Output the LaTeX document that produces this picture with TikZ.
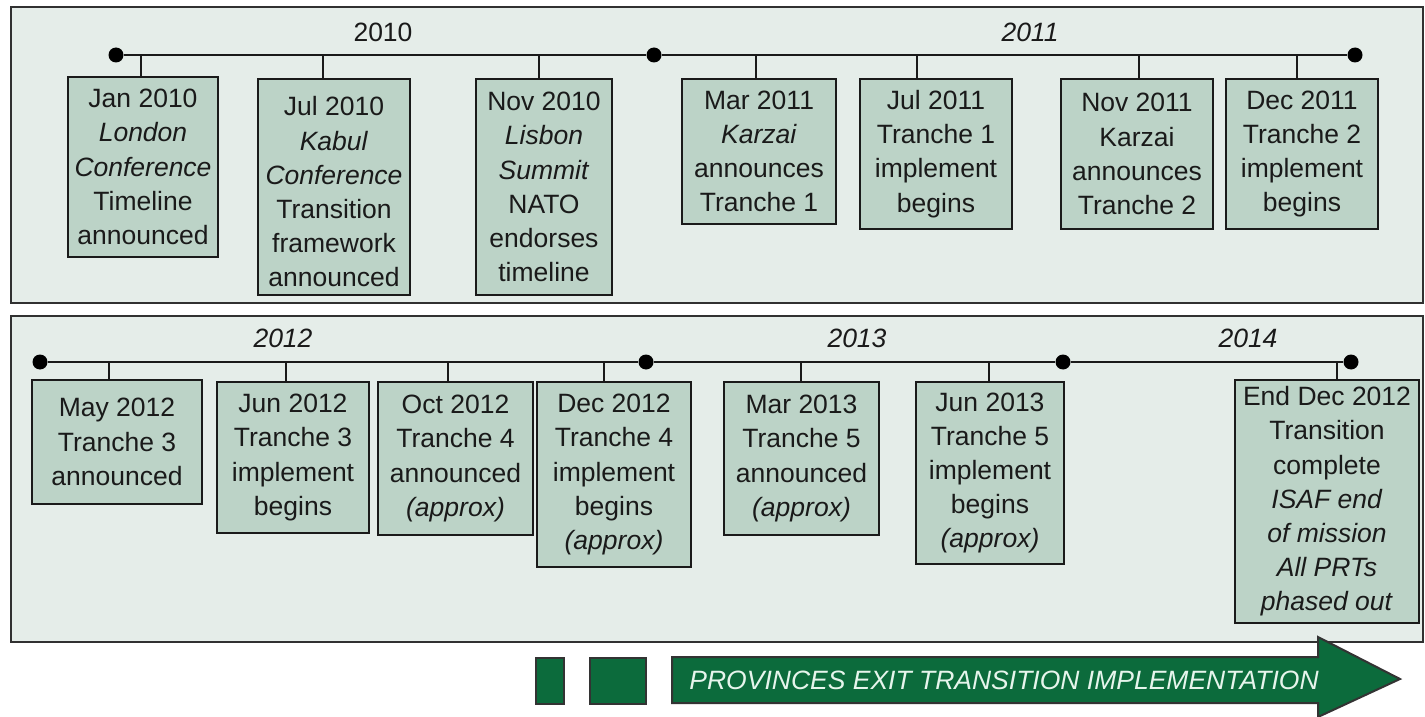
\documentclass[tikz,border=0pt]{standalone}
\usepackage{fontspec}
\setmainfont{Liberation Sans}
\usetikzlibrary{fit}
\definecolor{panelbg}{HTML}{E5EDE9}
\definecolor{boxfill}{HTML}{BCD3C7}
\definecolor{darkgreen}{HTML}{0C6B3C}
\definecolor{inkgray}{HTML}{1A1A1A}
\definecolor{paletext}{HTML}{E6F5EC}
\tikzset{
  panel/.style={draw=inkgray!90, line width=1.1pt, fill=panelbg},
  evbox/.style={draw=inkgray, line width=1pt, fill=boxfill, inner sep=0pt},
  evtext/.style={inner sep=0pt, align=center, text=inkgray,
    font=\fontsize{13.25}{17.1}\selectfont},
  tdot/.style={circle, fill=black, inner sep=0pt, minimum size=7.5pt},
  tline/.style={line width=1pt, draw=inkgray},
  yearlbl/.style={text=inkgray, font=\fontsize{13.25}{16}\selectfont, inner sep=0pt},
  gsq/.style={draw=black!80, line width=1pt, fill=darkgreen},
}
\begin{document}
\begin{tikzpicture}[x=0.5pt,y=-0.5pt]
\useasboundingbox (0,0) rectangle (1425,717);
% panels
\path[panel] (11,7) rectangle (1423,303);
\path[panel] (11,316) rectangle (1423,642);

% ---------- top timeline ----------
\node[tdot] (ta) at (116,55) {};
\node[tdot] (tb) at (654,55) {};
\node[tdot] (tc) at (1355,55) {};
\draw[tline] (ta) -- (tb) -- (tc);
\node[yearlbl] (y2010) at (383,32) {2010};
\node[yearlbl] (y2011) at (1030,32) {\itshape 2011};

\node[evbox, fit={(68,77)(218,257)}] (e1) {};
\node[evbox, fit={(258,79)(410,295)}] (e2) {};
\node[evbox, fit={(476,79)(612,295)}] (e3) {};
\node[evbox, fit={(682,79)(836,224)}] (e4) {};
\node[evbox, fit={(860,79)(1012,229)}] (e5) {};
\node[evbox, fit={(1061,79)(1213,229)}] (e6) {};
\node[evbox, fit={(1226,79)(1378,229)}] (e7) {};
\node[evtext] (e1t) at (e1.center) {Jan 2010\\\textit{London}\\\textit{Conference}\\Timeline\\announced};
\node[evtext] (e2t) at ([yshift=-2.5pt]e2.center) {Jul 2010\\\textit{Kabul}\\\textit{Conference}\\Transition\\framework\\announced};
\node[evtext] (e3t) at (e3.center) {Nov 2010\\\textit{Lisbon}\\\textit{Summit}\\NATO\\endorses\\timeline};
\node[evtext] (e4t) at (e4.center) {Mar 2011\\\textit{Karzai}\\announces\\Tranche 1};
\node[evtext] (e5t) at (e5.center) {Jul 2011\\Tranche 1\\implement\\begins};
\node[evtext] (e6t) at (e6.center) {Nov 2011\\Karzai\\announces\\Tranche 2};
\node[evtext] (e7t) at (e7.center) {Dec 2011\\Tranche 2\\implement\\begins};

\coordinate (k1) at (141,55);
\coordinate (k2) at (323,55);
\coordinate (k3) at (539,55);
\coordinate (k4) at (756,55);
\coordinate (k5) at (917,55);
\coordinate (k6) at (1139,55);
\coordinate (k7) at (1297,55);
\foreach \i in {1,...,7}{\draw[tline] (k\i) -- (k\i |- e\i.north);}

% ---------- bottom timeline ----------
\node[tdot] (ba) at (40,362) {};
\node[tdot] (bb) at (646,362) {};
\node[tdot] (bc) at (1063,362) {};
\node[tdot] (bd) at (1351,362) {};
\draw[tline] (ba) -- (bb) -- (bc) -- (bd);
\node[yearlbl] (y2012) at (283,338) {\itshape 2012};
\node[yearlbl] (y2013) at (857,338) {\itshape 2013};
\node[yearlbl] (y2014) at (1248,338) {\itshape 2014};

\node[evbox, fit={(32,380)(202,504)}] (f1) {};
\node[evbox, fit={(217,382)(369,533)}] (f2) {};
\node[evbox, fit={(378,382)(533,535)}] (f3) {};
\node[evbox, fit={(537,382)(691,567)}] (f4) {};
\node[evbox, fit={(724,382)(879,535)}] (f5) {};
\node[evbox, fit={(916,382)(1064,564)}] (f6) {};
\node[evbox, fit={(1235,380)(1419,623)}] (f7) {};
\node[evtext] (f1t) at (f1.center) {May 2012\\Tranche 3\\announced};
\node[evtext] (f2t) at (f2.center) {Jun 2012\\Tranche 3\\implement\\begins};
\node[evtext] (f3t) at (f3.center) {Oct 2012\\Tranche 4\\announced\\\textit{(approx)}};
\node[evtext] (f4t) at (f4.center) {Dec 2012\\Tranche 4\\implement\\begins\\\textit{(approx)}};
\node[evtext] (f5t) at (f5.center) {Mar 2013\\Tranche 5\\announced\\\textit{(approx)}};
\node[evtext] (f6t) at (f6.center) {Jun 2013\\Tranche 5\\implement\\begins\\\textit{(approx)}};
\node[evtext] (f7t) at (f7.center) {End Dec 2012\\Transition\\complete\\\textit{ISAF end}\\\textit{of mission}\\\textit{All PRTs}\\\textit{phased out}};

\coordinate (m1) at (109,362);
\coordinate (m2) at (286,362);
\coordinate (m3) at (448,362);
\coordinate (m4) at (604,362);
\coordinate (m5) at (801,362);
\coordinate (m6) at (989,362);
\coordinate (m7) at (1337,362);
\foreach \i in {1,...,7}{\draw[tline] (m\i) -- (m\i |- f\i.north);}

% ---------- bottom arrow ----------
\path[gsq] (536,658) rectangle (564,704);
\path[gsq] (590,658) rectangle (646,704);
\path[gsq] (672,657) -- (1318,657) -- (1318,637) -- (1400,679) -- (1318,717) -- (1318,703) -- (672,703) -- cycle;
\node[text=paletext, font=\fontsize{13.25}{15}\selectfont\itshape, inner sep=0pt] (arrowtxt) at (1004,680) {PROVINCES EXIT TRANSITION IMPLEMENTATION};
\end{tikzpicture}
\end{document}
